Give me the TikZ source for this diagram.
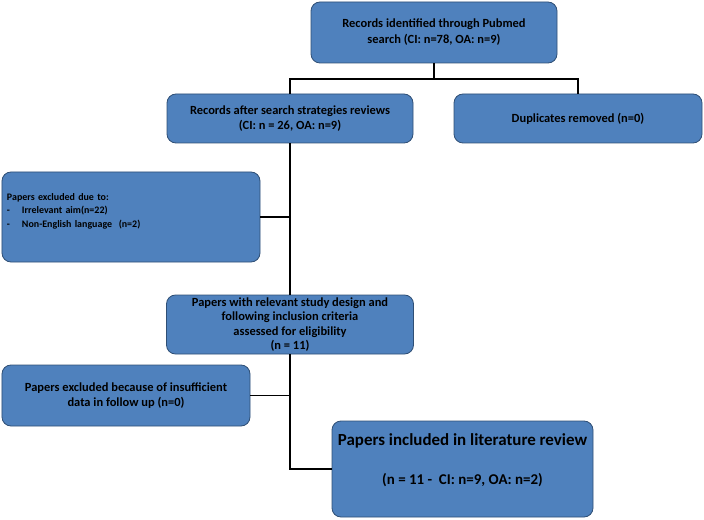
\documentclass[tikz,border=0pt]{standalone}
\usepackage{fontspec}
\setmainfont{Carlito}
\definecolor{boxblue}{HTML}{4F81BD}
\definecolor{boxline}{HTML}{2F4F75}
\begin{document}
\begin{tikzpicture}[x=1bp, y=-1bp,
		box/.style={draw=boxline, fill=boxblue, rounded corners=9bp, line width=0.8bp, inner sep=2bp, align=center, font=\bfseries\fontsize{12.5}{15}\selectfont},
		link/.style={line width=1.5bp}]
	\useasboundingbox (0,0) rectangle (704,520);

	\node[box, minimum width=246bp, minimum height=61bp, font=\bfseries\fontsize{12.5}{16}\selectfont] (search) at (434, 32.5) {Records identified through Pubmed\\search (CI: n=78, OA: n=9)};
	\node[box, minimum width=246bp, minimum height=49bp] (review) at (290, 118.5) {Records after search strategies reviews\\(CI: n = 26, OA: n=9)};
	\node[box, minimum width=248bp, minimum height=49bp] (dupl) at (578, 118.5) {Duplicates removed (n=0)};
	\node[box, align=left, text width=248bp, inner sep=5bp, minimum height=90bp, font=\bfseries\fontsize{10}{13.5}\selectfont] (excl) at (131, 217)
		{Papers excluded due to:\\\makebox[15bp][l]{-}Irrelevant aim(n=22)\\\makebox[15bp][l]{-}Non-English language~~(n=2)\\~};
	\node[box, minimum width=247bp, minimum height=59bp, inner sep=0bp, font=\bfseries\fontsize{12.5}{14.5}\selectfont] (design) at (290, 324.5)
		{Papers with relevant study design and\\following inclusion criteria\\assessed for eligibility\\(n = 11)};
	\node[box, minimum width=248bp, minimum height=61bp] (insuf) at (126, 395.5) {Papers excluded because of insufficient\\data in follow up (n=0)};
	\node[box, minimum width=261bp, minimum height=96bp, font=\bfseries\fontsize{15}{18}\selectfont] (incl) at (462.5, 469)
		{{\fontsize{17}{20}\selectfont Papers included in literature review}\\[22bp](n = 11 -~~CI: n=9, OA: n=2)\\[2bp]~};

	\draw[link] (search.south) -- ++(0,15.5) -| (review.north);
	\draw[link] (search.south) -- ++(0,15.5) -| (dupl.north);
	\draw[link] (review.south) -- (design.north);
	\draw[link] (excl.east) -- (excl.east -| design.north);
	\draw[link] (design.south) |- (incl.west);
	\draw[link] (insuf.east) -- (insuf.east -| design.south);
\end{tikzpicture}
\end{document}
